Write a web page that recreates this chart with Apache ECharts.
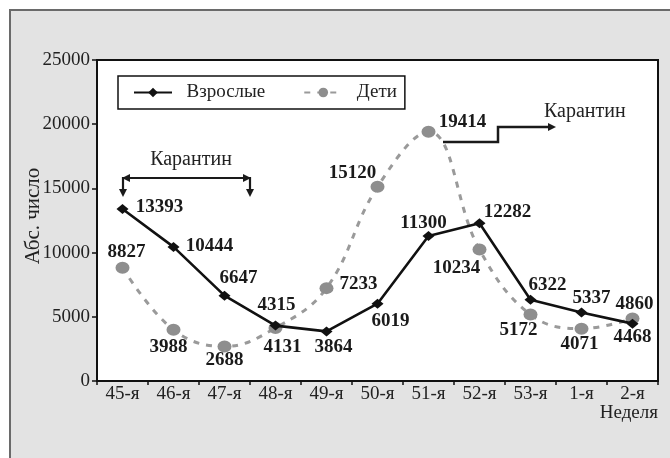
<!DOCTYPE html>
<html>
<head>
<meta charset="utf-8">
<script src="https://cdn.jsdelivr.net/npm/echarts@6/dist/echarts.min.js"></script>
<style>
html,body{margin:0;padding:0;background:#fff;overflow:hidden;}
#chart{position:absolute;left:0;top:0;width:670px;height:458px;}
</style>
</head>
<body>
<div id="chart"></div>
<script>
// ---- data ----
var weeks = ['45-я','46-я','47-я','48-я','49-я','50-я','51-я','52-я','53-я','1-я','2-я'];
var adults = [13393, 10444, 6647, 4315, 3864, 6019, 11300, 12282, 6322, 5337, 4468];
var children = [8827, 3988, 2688, 4131, 7233, 15120, 19414, 10234, 5172, 4071, 4860];
var yTicks = [0, 5000, 10000, 15000, 20000, 25000];
var seriesNames = ['Взрослые', 'Дети'];

// ---- label layout (offsets of label centre from point, px) ----
var adultOffsets = [[37,-2],[36,-1],[14,-18],[1,-21],[7,16],[13,17],[-5,-13],[28,-11],[17,-15],[10,-14],[0,13]];
var childOffsets = [[4,-16],[-5,17],[0,14],[7,19],[32,-4],[-25,-14],[34,-10],[-23,18],[-12,16],[-2,15],[2,-15]];

var FONT = '"Liberation Serif", "Times New Roman", serif';

function mkData(vals, offs){
  return vals.map(function(v,i){
    return {value:v, label:{offset:offs[i]}};
  });
}

var chart = echarts.init(document.getElementById('chart'), null, {renderer:'canvas'});

var arrowStyle = {stroke:'#1a1a1a', lineWidth:2.2, fill:null};
function head(x,y,dir){
  var L=8, W=4, pts;
  if(dir==='down') pts=[[x,y],[x-W,y-L],[x+W,y-L]];
  if(dir==='left') pts=[[x,y],[x+L,y-W],[x+L,y+W]];
  if(dir==='right') pts=[[x,y],[x-L,y-W],[x-L,y+W]];
  return {type:'polygon', shape:{points:pts}, style:{fill:'#1a1a1a'}, z:100};
}

var option = {
  backgroundColor:'#fff',
  animation:false,
  grid:{left:97, top:60, right:12, bottom:77, show:true, backgroundColor:'#fff', borderColor:'#111', borderWidth:2},
  legend:{
    left:118, top:76, orient:'horizontal',
    data:seriesNames,
    formatter:function(n){return '  ' + n;},
    backgroundColor:'#fff', borderColor:'#111', borderWidth:1.5, borderRadius:0,
    padding:[7,8,7,15], itemGap:38, itemWidth:38, itemHeight:12,
    textStyle:{fontFamily:FONT, fontSize:19, color:'#222'}
  },
  xAxis:{
    type:'category', data:weeks, boundaryGap:true,
    axisLine:{lineStyle:{color:'#111', width:2}},
    axisTick:{show:true, inside:false, length:4, lineStyle:{color:'#111', width:1.5}},
    axisLabel:{fontFamily:FONT, fontSize:19, color:'#222', margin:4},
    splitLine:{show:false}
  },
  yAxis:{
    type:'value', min:yTicks[0], max:yTicks[yTicks.length-1], interval:yTicks[1]-yTicks[0],
    axisLine:{show:true, lineStyle:{color:'#111', width:2}},
    axisTick:{show:true, length:5, lineStyle:{color:'#111', width:1.5}},
    axisLabel:{fontFamily:FONT, fontSize:19, color:'#222', margin:7, formatter:function(v){return String(v);}},
    splitLine:{show:false}
  },
  series:[
    {
      name:seriesNames[0], type:'line', data:mkData(adults, adultOffsets),
      symbol:'diamond', symbolSize:[12,10], z:3,
      lineStyle:{color:'#111', width:2.6},
      itemStyle:{color:'#111'},
      label:{show:true, position:'inside', fontFamily:FONT, fontSize:19, fontWeight:'bold', color:'#1a1a1a'}
    },
    {
      name:seriesNames[1], type:'line', data:mkData(children, childOffsets),
      smooth:0.4, symbol:'circle', symbolSize:[14,12], z:2,
      lineStyle:{color:'#9a9a9a', width:3, type:[6,7]},
      itemStyle:{color:'#8e8e8e'},
      label:{show:true, position:'inside', fontFamily:FONT, fontSize:19, fontWeight:'bold', color:'#1a1a1a'}
    }
  ],
  graphic:[
    // outer panel (left + top border only)
    {type:'rect', z:-100, zlevel:0, silent:true, shape:{x:10, y:10, width:700, height:500}, style:{fill:'#e3e3e3'}},
    {type:'polyline', z:-99, silent:true, shape:{points:[[10,470],[10,10],[700,10]]}, style:{stroke:'#6a6a6a', lineWidth:2, fill:null}},
    {type:'text', x:33, y:216, rotation:Math.PI/2, style:{text:'Абс. число', font:'21px '+FONT, fill:'#222', textAlign:'center', textVerticalAlign:'middle'}},
    {type:'text', x:658, y:413, style:{text:'Неделя', font:'19px '+FONT, fill:'#222', textAlign:'right', textVerticalAlign:'middle'}},
    {type:'text', x:191, y:160, style:{text:'Карантин', font:'20px '+FONT, fill:'#222', textAlign:'center', textVerticalAlign:'middle'}},
    {type:'text', x:544, y:112, style:{text:'Карантин', font:'20px '+FONT, fill:'#222', textAlign:'left', textVerticalAlign:'middle'}},
    // bracket 1
    {type:'polyline', shape:{points:[[128,178],[245,178]]}, style:arrowStyle, z:100},
    head(122,178,'left'), head(251,178,'right'),
    {type:'polyline', shape:{points:[[123,177],[123,190]]}, style:arrowStyle, z:100},
    {type:'polyline', shape:{points:[[250,177],[250,190]]}, style:arrowStyle, z:100},
    head(123,197,'down'), head(250,197,'down'),
    // arrow 2
    {type:'polyline', shape:{points:[[443,142],[498,142],[498,127],[548,127]]}, style:{stroke:'#1a1a1a', lineWidth:2.5, fill:null}, z:100},
    head(556,127,'right')
  ]
};
chart.setOption(option);
</script>
</body>
</html>
